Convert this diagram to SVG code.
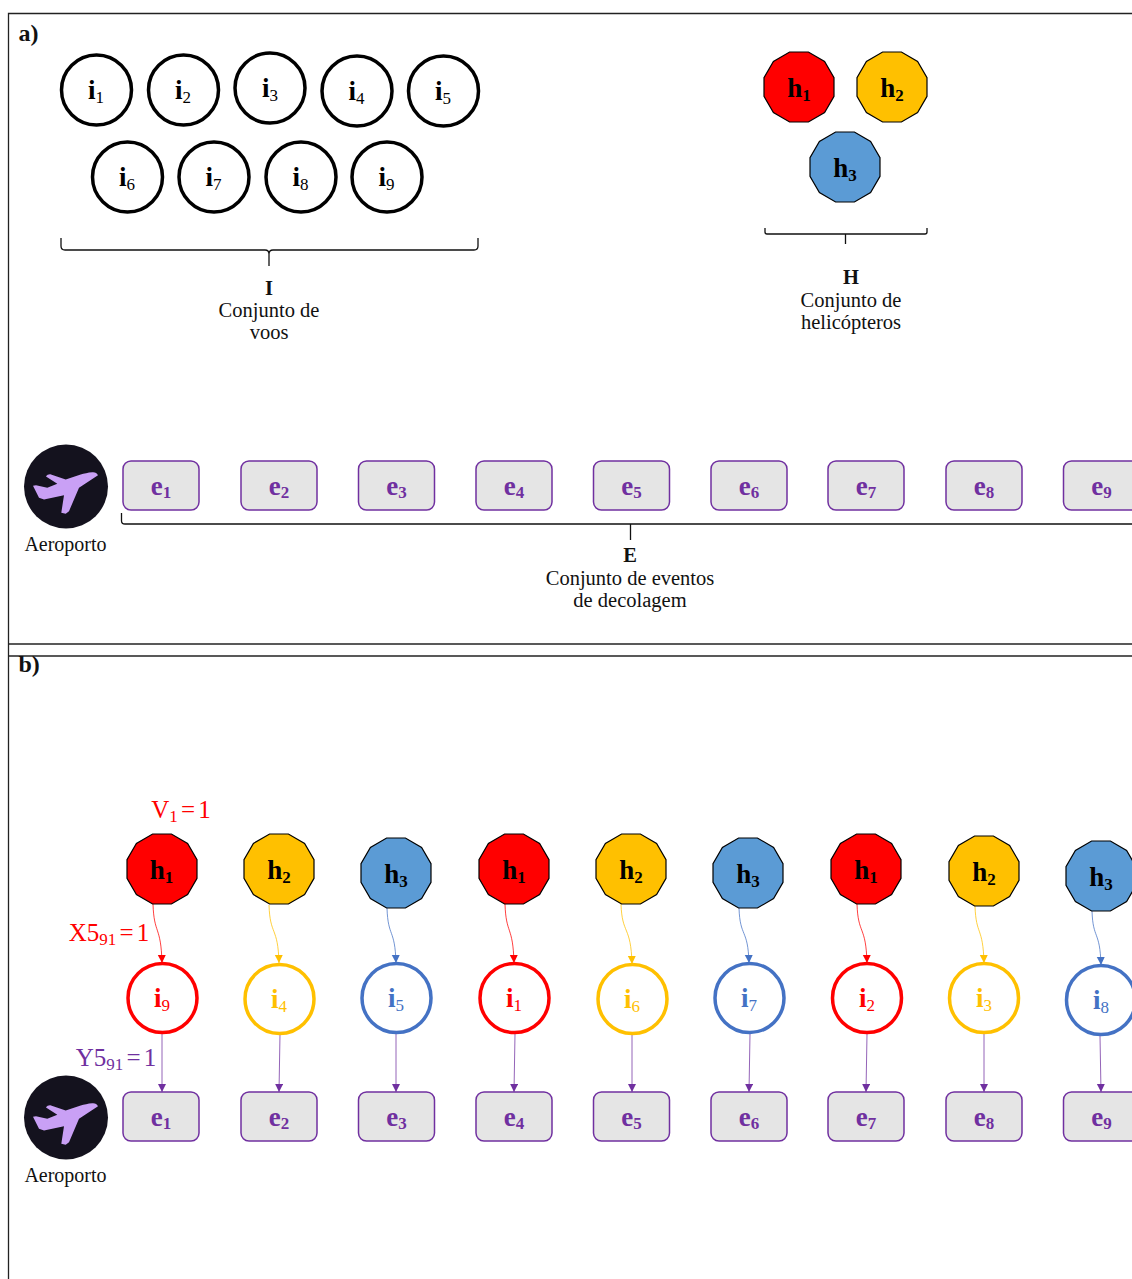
<svg xmlns="http://www.w3.org/2000/svg" xmlns:xlink="http://www.w3.org/1999/xlink" width="1132" height="1279" viewBox="0 0 1132 1279">
<style>
text{font-family:"Liberation Serif","DejaVu Serif",serif;text-anchor:middle}
.lb{font-size:20.5px;fill:#111}
.ap{font-size:20px}
.hd{font-size:24px;font-weight:bold;fill:#111;text-anchor:start}
.n{font-size:27px;font-weight:bold}
.n tspan{font-size:17px;font-weight:normal}
.nb tspan{font-weight:bold}
.f{font-size:25px;word-spacing:-3px}
.f tspan.s{font-size:17px}
.c{fill:#fff;stroke-width:3.5}
.k{stroke:#000}.r{stroke:#f00}.y{stroke:#ffc000}.b{stroke:#4472c4}.p{stroke:#7030a0}
.tk{fill:#000}.tr{fill:#f00}.ty{fill:#ffc000}.tb{fill:#4472c4}.tp{fill:#7030a0}
.e{fill:#e5e5e5;stroke:#7030a0;stroke-width:1.5}
.d{stroke:#000;stroke-width:1.2}
.br{fill:none;stroke:#111;stroke-width:1.3}
.fr{fill:none;stroke:#222;stroke-width:1.3}
.w{fill:none;stroke-width:1;stroke-opacity:.75}
</style>
<defs>
<polygon id="dod" points="35,9.4 25.6,25.6 9.4,35 -9.4,35 -25.6,25.6 -35,9.4 -35,-9.4 -25.6,-25.6 -9.4,-35 9.4,-35 25.6,-25.6 35,-9.4"/>
<rect id="ev" x="-38" y="-24.500" width="76" height="49" rx="8"/>
<g id="plane"><circle r="42" fill="#14121e"/><path fill="#c9a0f5" d="M32 -11.300C31 -13.500 29 -14.600 26.300 -14.300C22 -14 18 -13 14.700 -12L-.3 -7L-15 -12C-17 -12.500 -19 -11.500 -20 -10L-8.700 -2.700L-18.700 1.300L-30 -1.300L-33 -.7L-27 11.300L-22 13L-2 8.700L-4.700 26.300L-.3 27.300L3 24.700L13 1.300Z"/></g>
<marker id="mr" markerUnits="userSpaceOnUse" markerWidth="10" markerHeight="10" refX="8" refY="4" orient="auto"><path d="M0 0L8 4L0 8Z" fill="#f00"/></marker>
<marker id="my" markerUnits="userSpaceOnUse" markerWidth="10" markerHeight="10" refX="8" refY="4" orient="auto"><path d="M0 0L8 4L0 8Z" fill="#ffc000"/></marker>
<marker id="mb" markerUnits="userSpaceOnUse" markerWidth="10" markerHeight="10" refX="8" refY="4" orient="auto"><path d="M0 0L8 4L0 8Z" fill="#4472c4"/></marker>
<marker id="mp" markerUnits="userSpaceOnUse" markerWidth="10" markerHeight="10" refX="8" refY="4" orient="auto"><path d="M0 0L8 4L0 8Z" fill="#7030a0"/></marker>
</defs>
<rect width="1132" height="1279" fill="#fff"/>
<g id="frames" class="fr">
<path d="M8.500 1279V13.500H1132"/><path d="M8.500 644H1132"/><path d="M8.500 656H1132"/>
</g>
<text class="hd" x="18.500" y="41">a)</text>
<text class="hd" x="18.500" y="672">b)</text>

<g id="a-i1"><circle class="c k" cx="96.500" cy="90" r="35"/><text class="n tk" x="96" y="99">i<tspan dy="4">1</tspan></text></g>
<g id="a-i2"><circle class="c k" cx="183.500" cy="90" r="35"/><text class="n tk" x="183" y="99">i<tspan dy="4">2</tspan></text></g>
<g id="a-i3"><circle class="c k" cx="270" cy="88" r="35"/><text class="n tk" x="270" y="97">i<tspan dy="4">3</tspan></text></g>
<g id="a-i4"><circle class="c k" cx="357" cy="91" r="35"/><text class="n tk" x="356.500" y="100">i<tspan dy="4">4</tspan></text></g>
<g id="a-i5"><circle class="c k" cx="443.500" cy="91" r="35"/><text class="n tk" x="443" y="100">i<tspan dy="4">5</tspan></text></g>
<g id="a-i6"><circle class="c k" cx="127.500" cy="177" r="35"/><text class="n tk" x="127" y="186">i<tspan dy="4">6</tspan></text></g>
<g id="a-i7"><circle class="c k" cx="214" cy="177" r="35"/><text class="n tk" x="213.500" y="186">i<tspan dy="4">7</tspan></text></g>
<g id="a-i8"><circle class="c k" cx="301" cy="177" r="35"/><text class="n tk" x="300.500" y="186">i<tspan dy="4">8</tspan></text></g>
<g id="a-i9"><circle class="c k" cx="387" cy="177" r="35"/><text class="n tk" x="386.500" y="186">i<tspan dy="4">9</tspan></text></g>

<g id="a-h1"><use xlink:href="#dod" href="#dod" x="799" y="87" fill="#f00" class="d"/><text class="n nb tk" x="799" y="97">h<tspan dy="4">1</tspan></text></g>
<g id="a-h2"><use xlink:href="#dod" href="#dod" x="892" y="87" fill="#ffc000" class="d"/><text class="n nb tk" x="892" y="97">h<tspan dy="4">2</tspan></text></g>
<g id="a-h3"><use xlink:href="#dod" href="#dod" x="845" y="167" fill="#5b9bd5" class="d"/><text class="n nb tk" x="845" y="177">h<tspan dy="4">3</tspan></text></g>

<g id="brackets">
<path class="br" d="M61 238V246Q61 250 65 250H265Q269 250 269 254V266M269 254Q269 250 273 250H474Q478 250 478 246V238"/>
<path class="br" d="M765 228V232Q765 234 767 234H925Q927 234 927 232V228M845.500 234V244"/>
<path class="br" d="M121.500 513V521Q121.500 524 125 524H1132M630.500 524V540"/>
</g>
<g id="label-I"><text class="lb" x="269" y="295" font-weight="bold">I</text><text class="lb" x="269" y="317">Conjunto de</text><text class="lb" x="269" y="339">voos</text></g>
<g id="label-H"><text class="lb" x="851" y="284" font-weight="bold">H</text><text class="lb" x="851" y="307">Conjunto de</text><text class="lb" x="851" y="329">helicópteros</text></g>
<g id="label-E"><text class="lb" x="630" y="562" font-weight="bold">E</text><text class="lb" x="630" y="585">Conjunto de eventos</text><text class="lb" x="630" y="607">de decolagem</text></g>

<g id="a-airport"><use xlink:href="#plane" href="#plane" x="66" y="486.500"/><text class="lb ap" x="65.500" y="550.500">Aeroporto</text></g>
<g id="a-e1"><use xlink:href="#ev" href="#ev" x="161" y="485.500" class="e"/><text class="n nb tp" x="161" y="495">e<tspan dy="3">1</tspan></text></g>
<g id="a-e2"><use xlink:href="#ev" href="#ev" x="279" y="485.500" class="e"/><text class="n nb tp" x="279" y="495">e<tspan dy="3">2</tspan></text></g>
<g id="a-e3"><use xlink:href="#ev" href="#ev" x="396.500" y="485.500" class="e"/><text class="n nb tp" x="396.500" y="495">e<tspan dy="3">3</tspan></text></g>
<g id="a-e4"><use xlink:href="#ev" href="#ev" x="514" y="485.500" class="e"/><text class="n nb tp" x="514" y="495">e<tspan dy="3">4</tspan></text></g>
<g id="a-e5"><use xlink:href="#ev" href="#ev" x="631.500" y="485.500" class="e"/><text class="n nb tp" x="631.500" y="495">e<tspan dy="3">5</tspan></text></g>
<g id="a-e6"><use xlink:href="#ev" href="#ev" x="749" y="485.500" class="e"/><text class="n nb tp" x="749" y="495">e<tspan dy="3">6</tspan></text></g>
<g id="a-e7"><use xlink:href="#ev" href="#ev" x="866" y="485.500" class="e"/><text class="n nb tp" x="866" y="495">e<tspan dy="3">7</tspan></text></g>
<g id="a-e8"><use xlink:href="#ev" href="#ev" x="984" y="485.500" class="e"/><text class="n nb tp" x="984" y="495">e<tspan dy="3">8</tspan></text></g>
<g id="a-e9"><use xlink:href="#ev" href="#ev" x="1101.500" y="485.500" class="e"/><text class="n nb tp" x="1101.500" y="495">e<tspan dy="3">9</tspan></text></g>

<g id="connectors">
<path class="w r" marker-end="url(#mr)" d="M153 904C154 935 161 925 162 963"/>
<path class="w y" marker-end="url(#my)" d="M269 905C270 936 278 926 279 963"/>
<path class="w b" marker-end="url(#mb)" d="M387 908C388 938 395 928 396 963"/>
<path class="w r" marker-end="url(#mr)" d="M505 904C506 935 513 925 514 963"/>
<path class="w y" marker-end="url(#my)" d="M621 904C622 935 631 925 632 964"/>
<path class="w b" marker-end="url(#mb)" d="M739 908C740 938 748 928 749 963"/>
<path class="w r" marker-end="url(#mr)" d="M857 904C858 935 866 925 867 963"/>
<path class="w y" marker-end="url(#my)" d="M975 906C976 936 983 926 984 963"/>
<path class="w b" marker-end="url(#mb)" d="M1092 911C1093 940 1100 930 1101 965"/>
<path class="w p" marker-end="url(#mp)" d="M162 1034V1092"/>
<path class="w p" marker-end="url(#mp)" d="M280 1034L279 1092"/>
<path class="w p" marker-end="url(#mp)" d="M396 1034V1092"/>
<path class="w p" marker-end="url(#mp)" d="M515 1034L514 1092"/>
<path class="w p" marker-end="url(#mp)" d="M632 1034V1092"/>
<path class="w p" marker-end="url(#mp)" d="M750 1034L749 1092"/>
<path class="w p" marker-end="url(#mp)" d="M867 1034L866 1092"/>
<path class="w p" marker-end="url(#mp)" d="M984 1034V1092"/>
<path class="w p" marker-end="url(#mp)" d="M1100 1036L1101 1092"/>
</g>

<g id="b-h1"><use xlink:href="#dod" href="#dod" x="162" y="869" fill="#f00" class="d"/><text class="n nb tk" x="161.500" y="879">h<tspan dy="4">1</tspan></text></g>
<g id="b-h2"><use xlink:href="#dod" href="#dod" x="279" y="869" fill="#ffc000" class="d"/><text class="n nb tk" x="279" y="879">h<tspan dy="4">2</tspan></text></g>
<g id="b-h3"><use xlink:href="#dod" href="#dod" x="396" y="873" fill="#5b9bd5" class="d"/><text class="n nb tk" x="396" y="883">h<tspan dy="4">3</tspan></text></g>
<g id="b-h4"><use xlink:href="#dod" href="#dod" x="514" y="869" fill="#f00" class="d"/><text class="n nb tk" x="514" y="879">h<tspan dy="4">1</tspan></text></g>
<g id="b-h5"><use xlink:href="#dod" href="#dod" x="631" y="869" fill="#ffc000" class="d"/><text class="n nb tk" x="631" y="879">h<tspan dy="4">2</tspan></text></g>
<g id="b-h6"><use xlink:href="#dod" href="#dod" x="748" y="873" fill="#5b9bd5" class="d"/><text class="n nb tk" x="748" y="883">h<tspan dy="4">3</tspan></text></g>
<g id="b-h7"><use xlink:href="#dod" href="#dod" x="866" y="869" fill="#f00" class="d"/><text class="n nb tk" x="866" y="879">h<tspan dy="4">1</tspan></text></g>
<g id="b-h8"><use xlink:href="#dod" href="#dod" x="984" y="871" fill="#ffc000" class="d"/><text class="n nb tk" x="984" y="881">h<tspan dy="4">2</tspan></text></g>
<g id="b-h9"><use xlink:href="#dod" href="#dod" x="1101" y="876" fill="#5b9bd5" class="d"/><text class="n nb tk" x="1101" y="886">h<tspan dy="4">3</tspan></text></g>

<g id="b-i9"><circle class="c r" cx="162.500" cy="998" r="34.500"/><text class="n tr" x="162" y="1007">i<tspan dy="4">9</tspan></text></g>
<g id="b-i4"><circle class="c y" cx="279.500" cy="999" r="34.500"/><text class="n ty" x="279" y="1008">i<tspan dy="4">4</tspan></text></g>
<g id="b-i5"><circle class="c b" cx="396.500" cy="998" r="34.500"/><text class="n tb" x="396" y="1007">i<tspan dy="4">5</tspan></text></g>
<g id="b-i1"><circle class="c r" cx="514.500" cy="998" r="34.500"/><text class="n tr" x="514" y="1007">i<tspan dy="4">1</tspan></text></g>
<g id="b-i6"><circle class="c y" cx="632.500" cy="999" r="34.500"/><text class="n ty" x="632" y="1008">i<tspan dy="4">6</tspan></text></g>
<g id="b-i7"><circle class="c b" cx="749.500" cy="998" r="34.500"/><text class="n tb" x="749" y="1007">i<tspan dy="4">7</tspan></text></g>
<g id="b-i2"><circle class="c r" cx="867" cy="998" r="34.500"/><text class="n tr" x="867" y="1007">i<tspan dy="4">2</tspan></text></g>
<g id="b-i3"><circle class="c y" cx="984" cy="998" r="34.500"/><text class="n ty" x="984" y="1007">i<tspan dy="4">3</tspan></text></g>
<g id="b-i8"><circle class="c b" cx="1101" cy="1000" r="34.500"/><text class="n tb" x="1101" y="1009">i<tspan dy="4">8</tspan></text></g>

<g id="b-airport"><use xlink:href="#plane" href="#plane" x="66" y="1117.500"/><text class="lb ap" x="65.500" y="1181.500">Aeroporto</text></g>
<g id="b-e1"><use xlink:href="#ev" href="#ev" x="161" y="1116.500" class="e"/><text class="n nb tp" x="161" y="1126">e<tspan dy="3">1</tspan></text></g>
<g id="b-e2"><use xlink:href="#ev" href="#ev" x="279" y="1116.500" class="e"/><text class="n nb tp" x="279" y="1126">e<tspan dy="3">2</tspan></text></g>
<g id="b-e3"><use xlink:href="#ev" href="#ev" x="396.500" y="1116.500" class="e"/><text class="n nb tp" x="396.500" y="1126">e<tspan dy="3">3</tspan></text></g>
<g id="b-e4"><use xlink:href="#ev" href="#ev" x="514" y="1116.500" class="e"/><text class="n nb tp" x="514" y="1126">e<tspan dy="3">4</tspan></text></g>
<g id="b-e5"><use xlink:href="#ev" href="#ev" x="631.500" y="1116.500" class="e"/><text class="n nb tp" x="631.500" y="1126">e<tspan dy="3">5</tspan></text></g>
<g id="b-e6"><use xlink:href="#ev" href="#ev" x="749" y="1116.500" class="e"/><text class="n nb tp" x="749" y="1126">e<tspan dy="3">6</tspan></text></g>
<g id="b-e7"><use xlink:href="#ev" href="#ev" x="866" y="1116.500" class="e"/><text class="n nb tp" x="866" y="1126">e<tspan dy="3">7</tspan></text></g>
<g id="b-e8"><use xlink:href="#ev" href="#ev" x="984" y="1116.500" class="e"/><text class="n nb tp" x="984" y="1126">e<tspan dy="3">8</tspan></text></g>
<g id="b-e9"><use xlink:href="#ev" href="#ev" x="1101.500" y="1116.500" class="e"/><text class="n nb tp" x="1101.500" y="1126">e<tspan dy="3">9</tspan></text></g>

<g id="formulas">
<text class="f tr" x="181" y="818">V<tspan class="s" dy="4">1</tspan><tspan dy="-4"> = 1</tspan></text>
<text class="f tr" x="109" y="941">X5<tspan class="s" dy="4">91</tspan><tspan dy="-4"> = 1</tspan></text>
<text class="f tp" x="116" y="1066">Y5<tspan class="s" dy="4">91</tspan><tspan dy="-4"> = 1</tspan></text>
</g>
</svg>
